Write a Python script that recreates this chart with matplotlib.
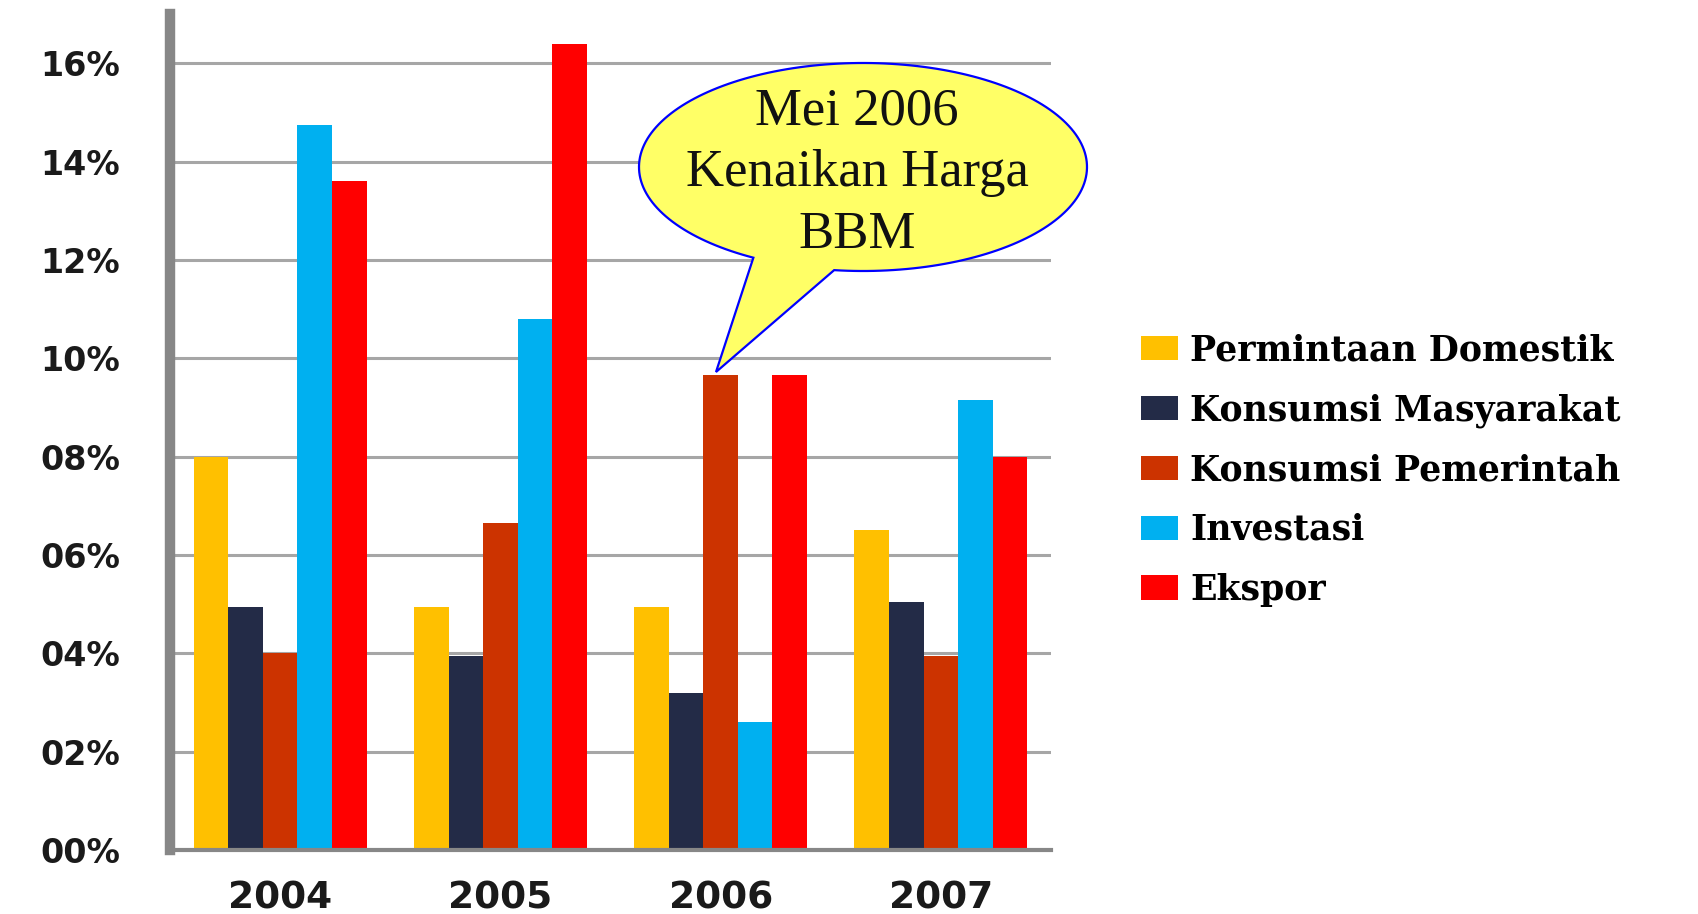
import numpy as np
import matplotlib
matplotlib.use("Agg")
from matplotlib import pyplot as plt
from matplotlib.patches import Polygon

# data (percent growth)
years = ["2004", "2005", "2006", "2007"]
series = ["Permintaan Domestik", "Konsumsi Masyarakat", "Konsumsi Pemerintah",
          "Investasi", "Ekspor"]
domestik = [8.0, 4.95, 4.95, 6.5]
masyarakat = [4.95, 3.95, 3.2, 5.05]
pemerintah = [4.0, 6.65, 9.65, 3.95]
investasi = [14.75, 10.8, 2.6, 9.15]
ekspor = [13.6, 16.4, 9.65, 8.0]
colors = ["#FFC000", "#232B47", "#CC3300", "#00B0F0", "#FF0000"]
yticks = [0, 2, 4, 6, 8, 10, 12, 14, 16]
ytick_labels = ["%02d%%" % v for v in yticks]

W, H = 1698, 914
fig = plt.figure(figsize=(W / 100, H / 100), dpi=100)
ax = fig.add_axes([170 / W, 64 / H, (1051 - 170) / W, (900 - 64) / H])

x = np.arange(len(years))
bw = 0.157
values = [domestik, masyarakat, pemerintah, investasi, ekspor]
for i, (vals, name, c) in enumerate(zip(values, series, colors)):
    ax.bar(x + (i - 2) * bw, vals, bw, color=c, label=name, zorder=3)

ax.set_xlim(-0.5, 3.5)
ax.set_ylim(0, 17)
ax.set_yticks(yticks)
ax.set_yticklabels(ytick_labels)
ax.set_xticks(x)
ax.set_xticklabels(years)

ax.grid(axis="y", color="#A6A6A6", linewidth=2.2, zorder=1)
ax.set_axisbelow(True)
for s in ["top", "right"]:
    ax.spines[s].set_visible(False)
ax.spines["left"].set_color("#878787")
ax.spines["left"].set_linewidth(7.5)
ax.spines["bottom"].set_color("#878787")
ax.spines["bottom"].set_linewidth(3)
ax.spines["left"].set_zorder(4)
ax.spines["bottom"].set_zorder(4)

ax.tick_params(axis="y", length=0, pad=36, labelsize=24, labelcolor="#1a1a1a")
ax.tick_params(axis="x", length=0, pad=22, labelsize=27, labelcolor="#1a1a1a")
for lab in ax.get_yticklabels() + ax.get_xticklabels():
    lab.set_fontweight("bold")

leg = fig.legend(loc="center left", bbox_to_anchor=(1124 / W, 1 - 470 / H),
                 frameon=False, borderpad=0, handlelength=1.05, handleheight=0.7,
                 handletextpad=0.35, labelspacing=0.74,
                 prop={"family": "DejaVu Serif", "weight": "bold", "size": 25})

# speech bubble callout
cx, cy, a, b = 863, 167, 224, 104
t = np.radians(np.linspace(262.6, 600.7, 200))
pts = [((cx + a * np.cos(tt)) / W, 1 - (cy - b * np.sin(tt)) / H) for tt in t]
pts.append((716 / W, 1 - 372 / H))
bubble = Polygon(pts, closed=True, facecolor="#FFFF66", edgecolor="#0000FF",
                 linewidth=1.6, transform=fig.transFigure, zorder=10)
fig.add_artist(bubble)
fig.text(857 / W, 1 - 173 / H, "Mei 2006\nKenaikan Harga\nBBM",
         family="Liberation Serif", fontsize=38, ha="center", va="center",
         linespacing=1.37, color="#111111", zorder=11)

fig.savefig("out.png", dpi=100)
